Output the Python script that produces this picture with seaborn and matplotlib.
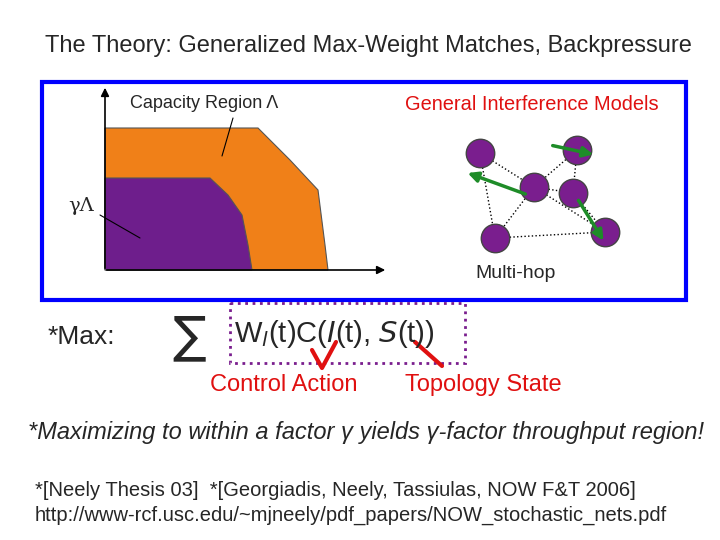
import matplotlib
matplotlib.use("Agg")
import matplotlib.pyplot as plt
import seaborn as sns
from matplotlib.patches import Polygon, Rectangle, FancyArrowPatch

sns.set_theme(style="white")
plt.rcParams['font.family'] = ['Liberation Sans', 'DejaVu Sans']

outer_x = [105, 105, 258, 290, 318, 325, 328]
outer_y = [270, 128, 128, 160, 190, 245, 270]
inner_x = [105, 105, 210, 228, 242, 248, 252]
inner_y = [270, 178, 178, 195, 215, 245, 270]
node_x = [480, 577, 534, 573, 495, 605]
node_y = [153, 150, 187, 193, 238, 232]
edges = [(0, 2), (0, 4), (1, 2), (1, 3), (2, 3), (2, 4), (3, 5), (4, 5), (2, 5)]

fig = plt.figure(figsize=(7.2, 5.4), dpi=100)
ax = fig.add_axes([0, 0, 1, 1])
ax.set_xlim(0, 720); ax.set_ylim(540, 0); ax.axis("off")

ax.text(368, 46, "The Theory: Generalized Max-Weight Matches, Backpressure", ha="center", va="center", fontsize=17)
ax.add_patch(Rectangle((42, 82), 644, 218, fill=False, ec="#0000FF", lw=3))

ax.add_patch(Polygon(list(zip(outer_x, outer_y)), closed=True, fc="#F08018", ec="#555555", lw=0.8))
ax.add_patch(Polygon(list(zip(inner_x, inner_y)), closed=True, fc="#6E1E8C", ec="#555555", lw=0.8))
ax.annotate("", xy=(105, 85), xytext=(105, 271), arrowprops=dict(arrowstyle="-|>", color="black", lw=1.2))
ax.annotate("", xy=(388, 270), xytext=(104, 270), arrowprops=dict(arrowstyle="-|>", color="black", lw=1.2))
ax.text(130, 104, "Capacity Region Λ", fontsize=13, va="center")
ax.plot([233, 222], [118, 156], color="black", lw=0.8)
ax.text(68, 206, "γΛ", fontsize=14, va="center", family=["DejaVu Serif"])
ax.plot([100, 140], [215, 238], color="black", lw=0.8)

ax.text(405, 105, "General Interference Models", fontsize=14.4, color="#E01010", va="center")
for a, b in edges:
    ax.plot([node_x[a], node_x[b]], [node_y[a], node_y[b]], color="black", lw=1, ls=":")
ax.scatter(node_x, node_y, s=420, color="#7A1E8E", edgecolor="#444444", zorder=3)
for (x0, y0, x1, y1) in [(550, 145, 596, 155), (528, 195, 465, 172), (577, 198, 605, 243)]:
    ax.add_patch(FancyArrowPatch((x0, y0), (x1, y1), arrowstyle="-|>", mutation_scale=15, color="#1E8C28", lw=2.5, zorder=4))
ax.text(475, 274, "Multi-hop", fontsize=14, va="center")

ax.text(48, 337, "*Max:", fontsize=19, va="center")
ax.text(172, 337, "∑", fontsize=36, va="center", family=["DejaVu Sans"])
ax.text(234, 334, r"W$_l$(t)C($I$(t), $S$(t))", fontsize=21, va="center")
ax.add_patch(Rectangle((230, 303), 235, 60, fill=False, ec="#7A1E8E", lw=2, ls=":"))
ax.plot([312, 322, 336], [350, 368, 342], color="#E01010", lw=3)
ax.plot([415, 442], [342, 366], color="#E01010", lw=3)
ax.text(210, 385, "Control Action", fontsize=17, color="#E01010", va="center")
ax.text(405, 385, "Topology State", fontsize=17, color="#E01010", va="center")

ax.text(28, 432, "*Maximizing to within a factor γ yields γ-factor throughput region!", fontsize=17, style="italic", va="center")
ax.text(35, 490, "*[Neely Thesis 03]  *[Georgiadis, Neely, Tassiulas, NOW F&T 2006]", fontsize=14.5, va="center")
ax.text(35, 515, "http://www-rcf.usc.edu/~mjneely/pdf_papers/NOW_stochastic_nets.pdf", fontsize=14.5, va="center")

fig.savefig("out.png", dpi=100)
